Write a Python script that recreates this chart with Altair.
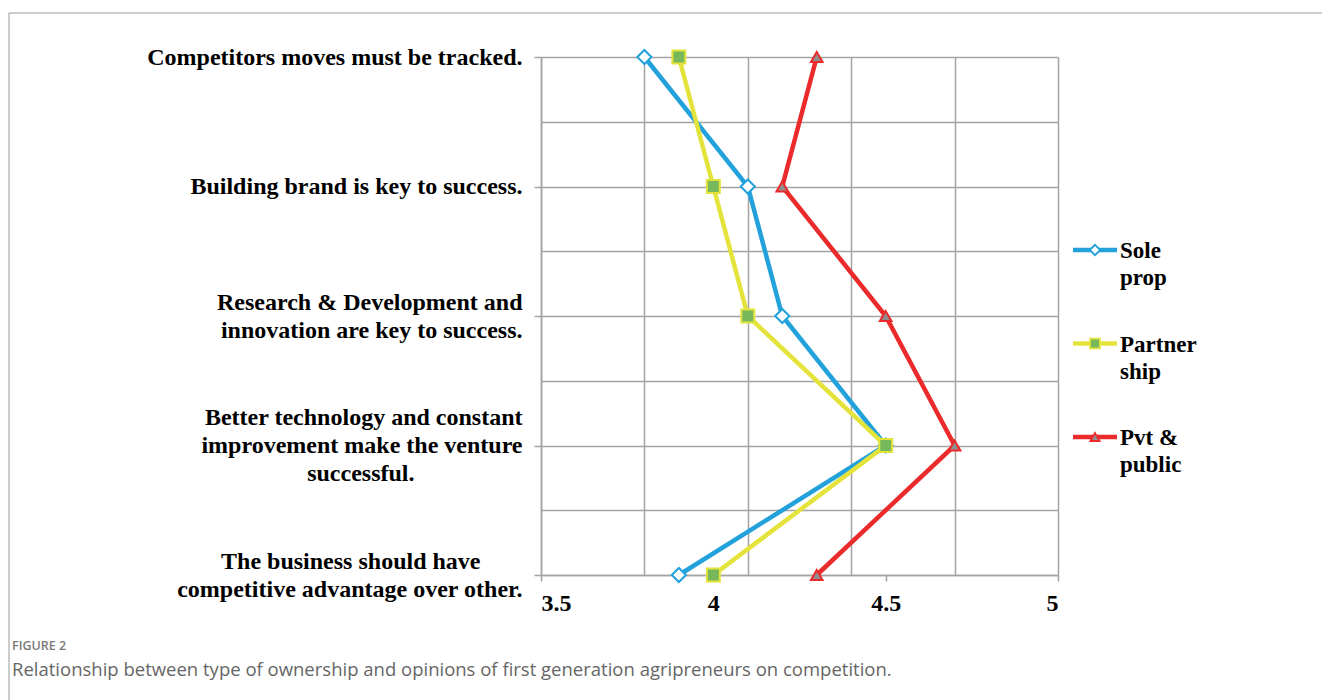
import json
import altair as alt
import pandas as pd

NBSP = "\u00a0"
ZWSP = "\u200b"  # keeps trailing padding from being trimmed


def pad_right(text, n):
    return text + NBSP * n + ZWSP


# Statements on the vertical axis (each entry is a list of label lines)
STATEMENTS = [
    ["Competitors moves must be tracked."],
    ["Building brand is key to success."],
    ["Research & Development and", "innovation are key to success."],
    ["Better technology and constant", "improvement make the venture", pad_right("successful.", 18)],
    [pad_right("The business should have", 7), "competitive advantage over other."],
]

SERIES = ["Sole prop", "Partnership", "Pvt & public"]
LEGEND_LABELS = ["Sole\nprop", "Partner\nship", "Pvt &\npublic"]

# Mean opinion scores per ownership type, one value per statement
SOLE_PROP = [3.8, 4.1, 4.2, 4.5, 3.9]
PARTNERSHIP = [3.9, 4.0, 4.1, 4.5, 4.0]
PVT_PUBLIC = [4.3, 4.2, 4.5, 4.7, 4.3]

X_LABEL_VALUES = [3.5, 4, 4.5, 5]
X_GRID_VALUES = [3.5, 3.8, 4.1, 4.4, 4.7, 5]
Y_GRID_VALUES = [0, 0.5, 1, 1.5, 2, 2.5, 3, 3.5, 4]

FIG_LABEL = "FIGURE 2"
CAPTION = ("Relationship between type of ownership and opinions of first generation "
           "agripreneurs on competition.")

LINE_COLORS = ["#22A1DA", "#E3E33B", "#EA2A2B"]
MARKER_FILLS = ["#FFFFFF", "#77B85A", "#8E8E8E"]
SHAPES = ["diamond", "square", "triangle-up"]
GRID = "#A3A3A3"
SERIF = "Liberation Serif"
LABEL_LINE_HEIGHT = 28

rows = []
for name, vals in zip(SERIES, [SOLE_PROP, PARTNERSHIP, PVT_PUBLIC]):
    for i, v in enumerate(vals):
        rows.append({"series": name, "idx": i, "value": v})
df = pd.DataFrame(rows)

legend_df = pd.DataFrame({"series": SERIES, "label": LEGEND_LABELS})

# Shift multi-line statement labels so each block is centred on its tick
offset_conditions = []
for i, lines_ in enumerate(STATEMENTS):
    if len(lines_) > 1:
        offset_conditions.append({
            "test": f"datum.value === {i}",
            "value": -(len(lines_) - 1) * LABEL_LINE_HEIGHT / 2,
        })

x_all = sorted(set(X_LABEL_VALUES) | set(X_GRID_VALUES))
x_axis = alt.Axis(
    values=x_all,
    title=None,
    grid=True,
    gridColor=GRID,
    gridWidth=1.5,
    gridOpacity={"condition": {"test": f"indexof({json.dumps(X_GRID_VALUES)}, datum.value) >= 0",
                               "value": 1}, "value": 0},
    tickOpacity={"condition": {"test": f"indexof({json.dumps(X_LABEL_VALUES)}, datum.value) >= 0",
                               "value": 1}, "value": 0},
    labelExpr=f"indexof({json.dumps(X_LABEL_VALUES)}, datum.value) >= 0 ? format(datum.value, '~g') : ''",
    labelOverlap=False,
    labelFont=SERIF,
    labelFontWeight="bold",
    labelFontSize=24,
    labelColor="#000000",
    labelPadding=10,
    domainColor=GRID,
    domainWidth=1.5,
    tickColor=GRID,
    tickWidth=1.5,
    tickSize=6,
)

y_axis = alt.Axis(
    values=Y_GRID_VALUES,
    title=None,
    grid=True,
    gridColor=GRID,
    gridWidth=1.5,
    tickOpacity={"condition": {"test": "datum.value % 1 === 0", "value": 1}, "value": 0},
    labelExpr=("datum.value % 1 === 0 ? "
               f"{json.dumps(STATEMENTS, ensure_ascii=False)}[datum.value] : ''"),
    labelOffset={"condition": offset_conditions, "value": 0},
    labelOverlap=False,
    labelFont=SERIF,
    labelFontWeight="bold",
    labelFontSize=24,
    labelLineHeight=LABEL_LINE_HEIGHT,
    labelColor="#000000",
    labelAlign="right",
    labelBaseline="middle",
    labelLimit=600,
    labelPadding=12,
    domainColor=GRID,
    domainWidth=1.5,
    tickColor=GRID,
    tickWidth=1.5,
    tickSize=7,
)

x_enc = alt.X("value:Q", scale=alt.Scale(domain=[3.5, 5], nice=False, zero=False), axis=x_axis)
y_enc = alt.Y("idx:Q", scale=alt.Scale(domain=[0, 4], reverse=True, nice=False, zero=False), axis=y_axis)
color_enc = alt.Color("series:N", scale=alt.Scale(domain=SERIES, range=LINE_COLORS), legend=None)
stroke_enc = alt.Stroke("series:N", scale=alt.Scale(domain=SERIES, range=LINE_COLORS), legend=None)
fill_enc = alt.Fill("series:N", scale=alt.Scale(domain=SERIES, range=MARKER_FILLS), legend=None)
shape_enc = alt.Shape("series:N", scale=alt.Scale(domain=SERIES, range=SHAPES), legend=None)

base = alt.Chart(df)

lines = base.mark_line(strokeWidth=4.5).encode(
    x=x_enc, y=y_enc, color=color_enc, order=alt.Order("idx:Q")
)
points = base.mark_point(filled=True, opacity=1, strokeWidth=2).encode(
    x=x_enc, y=y_enc, shape=shape_enc, fill=fill_enc, stroke=stroke_enc,
    size=alt.Size("series:N", scale=alt.Scale(domain=SERIES, range=[200, 135, 320]), legend=None),
)
main = alt.layer(lines, points)

# Hand-built legend to the right of the plot
lg_y = alt.Y("series:N",
             scale=alt.Scale(type="point", domain=SERIES, range=[193, 380], padding=0),
             axis=None)
lg_base = alt.Chart(legend_df)
lg_line = lg_base.mark_rule(strokeWidth=4.5).encode(
    x=alt.value(532), x2=alt.value(576), y=lg_y, color=color_enc
)
lg_mark = lg_base.mark_point(filled=True, opacity=1, strokeWidth=1.8).encode(
    x=alt.value(554), y=lg_y, shape=shape_enc, fill=fill_enc, stroke=stroke_enc,
    size=alt.Size("series:N", scale=alt.Scale(domain=SERIES, range=[110, 85, 200]), legend=None),
)
lg_text = lg_base.mark_text(
    align="left", baseline="alphabetic", dy=8, font=SERIF, fontWeight="bold",
    fontSize=23, lineBreak="\n", lineHeight=27, color="#000000",
).encode(x=alt.value(579), y=lg_y, text="label:N")
legend = alt.layer(lg_line, lg_mark, lg_text)

# Figure frame and caption
frame = alt.Chart(pd.DataFrame({"k": [0]})).mark_rect(
    fillOpacity=0, stroke="#9A9A9A", strokeWidth=1
).encode(x=alt.value(-532), x2=alt.value(900), y=alt.value(-44), y2=alt.value(800))

fig_label = alt.Chart(pd.DataFrame({"t": [FIG_LABEL]})).mark_text(
    align="left", baseline="middle", font="Open Sans", fontSize=12.5, fontWeight=600,
    color="#7A7A7A"
).encode(x=alt.value(-529), y=alt.value(589), text="t:N")
caption = alt.Chart(pd.DataFrame({"t": [CAPTION]})).mark_text(
    align="left", baseline="middle", font="Open Sans", fontSize=18.5, color="#666666"
).encode(x=alt.value(-529), y=alt.value(613), text="t:N")

chart = alt.layer(frame, main, legend, fig_label, caption).resolve_scale(
    y="independent", size="independent"
).properties(
    width=517,
    height=518,
    autosize=alt.AutoSizeParams(type="none"),
    padding={"left": 541, "top": 57, "right": 264, "bottom": 125},
    background="#FFFFFF",
).configure_view(stroke=None)

chart.save("out.html", embed_options={"renderer": "svg", "actions": False})
